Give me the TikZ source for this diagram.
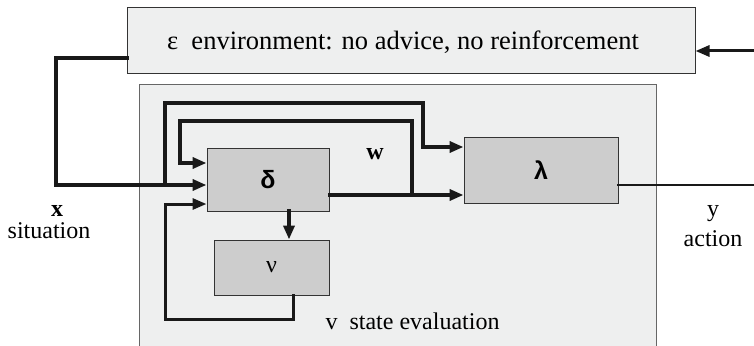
\documentclass[tikz,border=0pt]{standalone}
\usepackage{fontspec}
\setmainfont{Liberation Serif}
\newfontfamily\greekbold{Liberation Sans}
\usetikzlibrary{arrows.meta}

\definecolor{envfill}{HTML}{EEEFEF}
\definecolor{boxfill}{HTML}{CDCDCD}

\tikzset{
  block/.style={draw=black!80, line width=1pt, fill=boxfill, inner sep=0pt},
  wire/.style={line width=4pt, draw=black!90, line cap=rect},
  tip/.style={-{Triangle[length=14pt,width=11pt]}},
  lbl/.style={font=\fontsize{24}{26}\selectfont, inner sep=0pt}
}

\begin{document}
\begin{tikzpicture}[x=1pt, y=-1pt]
    \useasboundingbox (0,0) rectangle (754,345);

    % Environment and agent
    \node[draw=black!80, line width=1pt, fill=envfill, minimum width=568pt, minimum height=65pt] (env) at (411,40.5) {};
    \node[lbl, font=\fontsize{26.5}{28}\selectfont] (envlabel) at (403,42) {ε~~environment: no advice, no reinforcement};
    \node[draw=black!60, line width=1pt, fill=envfill, minimum width=517pt, minimum height=280pt] (agent) at (397.5,224) {};

    % The blocks
    \node[block, minimum width=122pt, minimum height=63pt] (delta) at (268,179.5) {\greekbold\bfseries\fontsize{25}{26}\selectfont δ};
    \node[block, minimum width=115pt, minimum height=55pt] (nu) at (271.5,267.5) {\fontsize{24}{26}\selectfont ν};
    \node[block, minimum width=154pt, minimum height=66pt] (lambda) at (541,170) {\greekbold\bfseries\fontsize{25}{26}\selectfont λ};

    % Corner points of the wires
    \coordinate (x1) at (56,58);
    \coordinate (x2) at (56,185);
    \coordinate (t1) at (165,103);
    \coordinate (t2) at (423,103);
    \coordinate (t3) at (423,147);
    \coordinate (w1) at (412,195);
    \coordinate (w2) at (412,121);
    \coordinate (w3) at (180,121);
    \coordinate (w4) at (180,163);
    \coordinate (v1) at (293,319);
    \coordinate (v2) at (165,319);
    \coordinate (v3) at (165,204);
    \coordinate (yout) at (754,185);
    \coordinate (fb) at (754,51);

    % Situation into delta
    \draw[wire, tip, line width=4.5pt] (x1 -| env.west) -- (x1) -- (x2) -- (x2 -| delta.west);
    \draw[wire, tip] (t1 |- x2) -- (t1) -- (t2) -- (t3) -- (t3 -| lambda.west);

    % Weights out of delta
    \draw[wire, tip, line width=3.5pt] (w1 -| delta.east) -- (w1 -| lambda.west);
    \draw[wire, tip] (w1) -- (w2) -- (w3) -- (w4) -- (w4 -| delta.west);

    % State evaluation loop
    \draw[wire, tip, line width=4.5pt] ([xshift=21pt]delta.south) -- ([xshift=17.5pt]nu.north);
    \draw[wire, tip, line width=3pt] ([xshift=21.5pt]nu.south) -- (v1) -- (v2) -- (v3) -- (v3 -| delta.west);

    % Action out and back to the environment
    \draw[wire, line width=2.5pt] (yout -| lambda.east) -- (yout);
    \draw[wire, tip, line width=3pt] (fb) -- (fb -| env.east);

    % Labels
    \node[lbl] (xlab) at (57,211) {\textbf{x}};
    \node[lbl] (sitlab) at (49,231) {situation};
    \node[lbl] (ylab) at (713,214) {y};
    \node[lbl] (actlab) at (713,239) {action};
    \node[lbl] (wlab) at (375,154) {\textbf{w}};
    \node[lbl] (vlab) at (412.5,321) {v~~state evaluation};
\end{tikzpicture}
\end{document}
